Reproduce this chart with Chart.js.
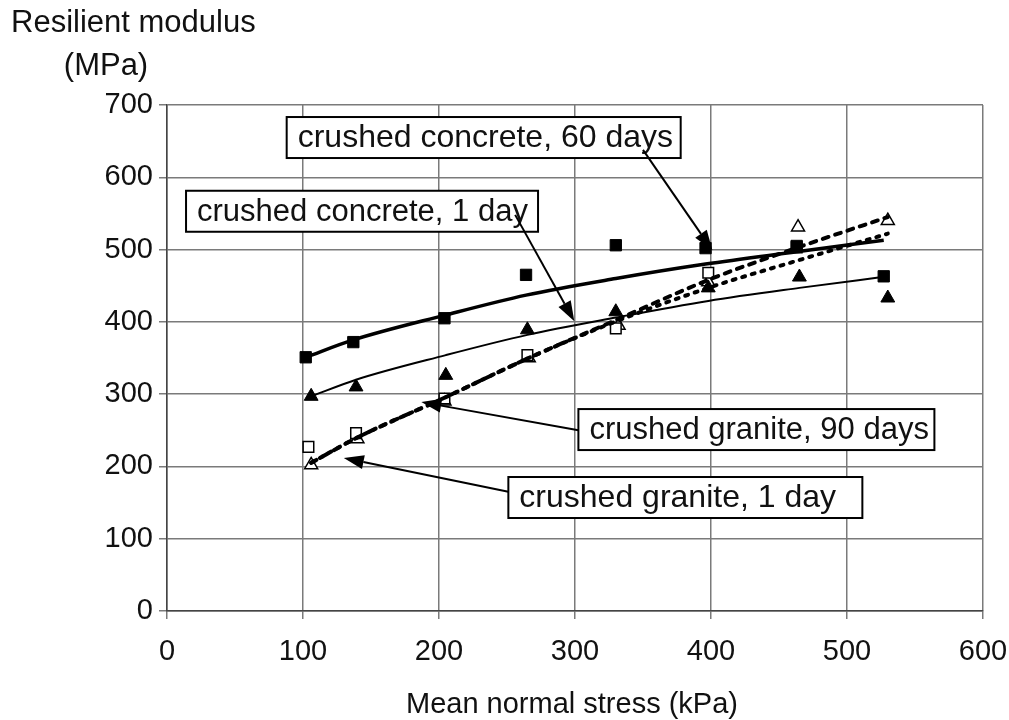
<!DOCTYPE html>
<html>
<head>
<meta charset="utf-8">
<script src="https://cdn.jsdelivr.net/npm/chart.js@4/dist/chart.umd.min.js"></script>
<style>
  html, body { margin: 0; padding: 0; background: #fff; }
  #wrap { width: 1009px; height: 720px; }
</style>
</head>
<body>
<div id="wrap"><canvas id="chart" width="1009" height="720"></canvas></div>
<script>
// Measured points (Mean normal stress kPa -> Resilient modulus MPa)
const concrete60X = [102, 137, 204, 264, 330, 396, 463, 527];
const concrete60Y = [351, 372, 405, 465, 506, 502, 505, 463];
const concrete60FitY = [351, 375, 409, 437, 460, 480, 497, 513];

const concrete1X = [106, 139, 205, 265, 330, 398, 465, 530];
const concrete1Y = [297, 310, 326, 389, 414, 447, 462, 433];
const concrete1FitY = [297, 320, 354, 382, 406, 429, 447, 463];

const granite90X = [104, 139, 204, 265, 330, 398, 463];
const granite90Y = [227, 246, 294, 354, 391, 468, 503];

const granite1X = [106, 140, 204, 266, 332, 398, 464, 530];
const granite1Y = [202, 238, 290, 350, 395, 455, 531, 540];

const graniteFitX = [106, 140, 204, 266, 332, 398, 464, 530];
const granite90FitY = [205, 240, 295, 350, 402, 447, 485, 522];
const granite1FitY = [205, 240, 295, 350, 404, 458, 503, 545];

const xTicks = [0, 100, 200, 300, 400, 500, 600];
const yTicks = [0, 100, 200, 300, 400, 500, 600, 700];

const labelTexts = ['crushed concrete, 60 days', 'crushed concrete, 1 day',
                    'crushed granite, 90 days', 'crushed granite, 1 day'];

// annotation layout: box anchor and arrow in data units, box width / font in px
const notes = [
  { left: 88,    midY: 655, w: 394, fs: 32, fromX: 350,   fromY: 638, toX: 401,   toY: 499 },
  { left: 14,    midY: 553, w: 352, fs: 31, fromX: 256,   fromY: 548, toX: 299.5, toY: 401 },
  { left: 302.5, midY: 251, w: 356, fs: 31, fromX: 302.5, fromY: 250, toX: 187,   toY: 289 },
  { left: 251,   midY: 157, w: 354, fs: 32, fromX: 251,   fromY: 165, toX: 130,   toY: 211.6 },
];

const FONT = '"Liberation Sans", Arial, sans-serif';
const pts = (xs, ys) => xs.map((x, i) => ({ x, y: ys[i] }));

function fitLine(data, width, dash) {
  return {
    type: 'line', data, borderColor: '#000', borderWidth: width,
    borderDash: dash, borderCapStyle: dash.length ? 'round' : 'butt',
    pointRadius: 0, tension: 0.4, cubicInterpolationMode: 'monotone', fill: false,
  };
}

function markers(data, style, filled, radius) {
  return {
    type: 'scatter', data, pointStyle: style, pointRadius: radius,
    pointBackgroundColor: filled ? '#000' : '#fff',
    pointBorderColor: '#000', pointBorderWidth: filled ? 1 : 1.5,
  };
}

function arrow(ctx, x1, y1, x2, y2) {
  const ang = Math.atan2(y2 - y1, x2 - x1);
  const len = 20, half = 7;
  const bx = x2 - Math.cos(ang) * len, by = y2 - Math.sin(ang) * len;
  ctx.beginPath();
  ctx.moveTo(x1, y1);
  ctx.lineTo(bx, by);
  ctx.lineWidth = 2;
  ctx.strokeStyle = '#000';
  ctx.stroke();
  ctx.beginPath();
  ctx.moveTo(x2, y2);
  ctx.lineTo(bx - Math.sin(ang) * half, by + Math.cos(ang) * half);
  ctx.lineTo(bx + Math.sin(ang) * half, by - Math.cos(ang) * half);
  ctx.closePath();
  ctx.fillStyle = '#000';
  ctx.fill();
}

const annotatePlugin = {
  id: 'annotate',
  afterDraw(chart) {
    const { ctx, scales: { x, y } } = chart;
    ctx.save();
    ctx.fillStyle = '#111';
    ctx.font = '31px ' + FONT;
    ctx.textBaseline = 'alphabetic';
    ctx.textAlign = 'left';
    ctx.fillText('Resilient modulus', 11, 32);
    ctx.textAlign = 'center';
    ctx.fillText('(MPa)', 106, 75);
    ctx.font = '29px ' + FONT;
    ctx.fillText('Mean normal stress (kPa)', 572, 713);

    notes.forEach((n, i) => {
      const left = x.getPixelForValue(n.left);
      const mid = y.getPixelForValue(n.midY);
      const h = 41;
      ctx.fillStyle = '#fff';
      ctx.fillRect(left, mid - h / 2, n.w, h);
      ctx.lineWidth = 2;
      ctx.strokeStyle = '#000';
      ctx.strokeRect(left, mid - h / 2, n.w, h);
      ctx.fillStyle = '#111';
      ctx.font = n.fs + 'px ' + FONT;
      ctx.textAlign = 'left';
      ctx.textBaseline = 'middle';
      ctx.fillText(labelTexts[i], left + 11, mid + 1);
      arrow(ctx, x.getPixelForValue(n.fromX), y.getPixelForValue(n.fromY),
            x.getPixelForValue(n.toX), y.getPixelForValue(n.toY));
    });
    ctx.restore();
  },
};

new Chart(document.getElementById('chart'), {
  type: 'scatter',
  data: {
    datasets: [
      fitLine(pts(concrete60X, concrete60FitY), 3.5, []),
      fitLine(pts(concrete1X, concrete1FitY), 2, []),
      fitLine(pts(graniteFitX, granite90FitY), 4, [3, 7]),
      fitLine(pts(graniteFitX, granite1FitY), 4, [6, 7]),
      markers(pts(concrete60X, concrete60Y), 'rect', true, 8),
      markers(pts(concrete1X, concrete1Y), 'triangle', true, 8),
      markers(pts(granite90X, granite90Y), 'rect', false, 7.5),
      markers(pts(granite1X, granite1Y), 'triangle', false, 7.5),
    ],
  },
  options: {
    responsive: false,
    animation: false,
    layout: { padding: { left: 0, top: 105, right: 26, bottom: 0 } },
    plugins: { legend: { display: false }, tooltip: { enabled: false } },
    scales: {
      x: {
        type: 'linear', min: 0, max: 600,
        afterBuildTicks: s => { s.ticks = xTicks.map(v => ({ value: v })); },
        ticks: { color: '#111', font: { family: FONT, size: 29 }, padding: 16, maxRotation: 0 },
        grid: { color: '#7a7a7a', lineWidth: 1.5, tickLength: 8 },
        border: { color: '#444', width: 1.5 },
        afterFit: s => { s.height = 109; s.paddingLeft = 0; s.paddingRight = 0; },
      },
      y: {
        type: 'linear', min: 0, max: 700,
        afterBuildTicks: s => { s.ticks = yTicks.map(v => ({ value: v })); },
        ticks: { color: '#111', font: { family: FONT, size: 29 }, padding: 6 },
        grid: { color: '#7a7a7a', lineWidth: 1.5, tickLength: 8 },
        border: { color: '#444', width: 1.5 },
        afterFit: s => { s.width = 167; s.paddingTop = 0; s.paddingBottom = 0; },
      },
    },
  },
  plugins: [annotatePlugin],
});
</script>
</body>
</html>
